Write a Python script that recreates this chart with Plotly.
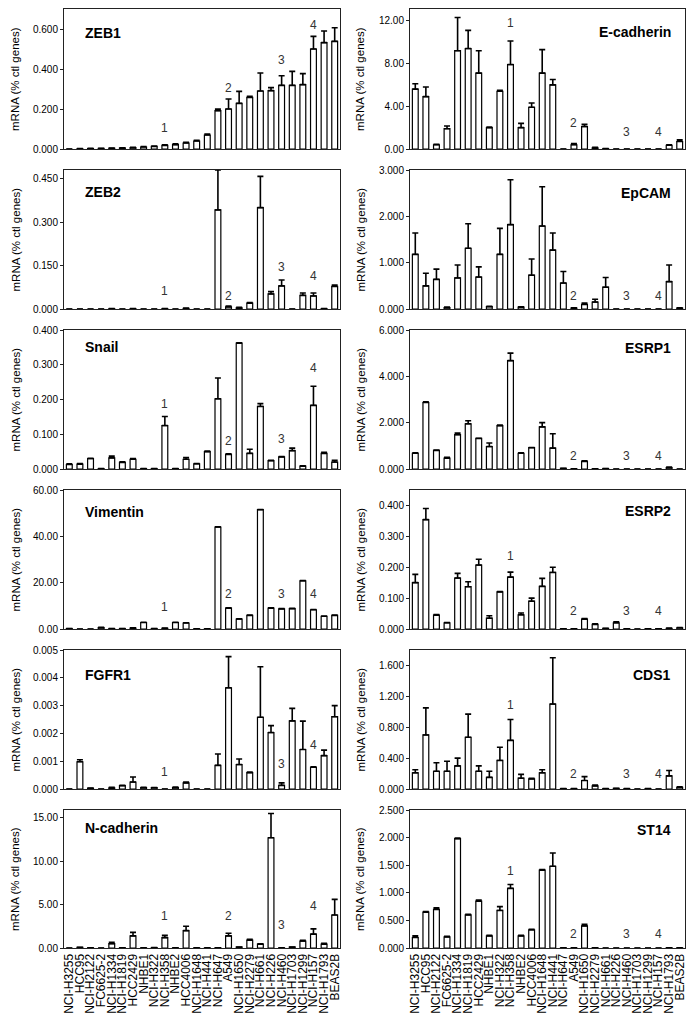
import plotly.graph_objects as go

cats = ["NCI-H3255", "HCC95", "NCI-H2122", "FC6625-2", "NCI-H1334", "NCI-H1819",
        "HCC2429", "NHBE1", "NCI-H322", "NCI-H358", "NHBE2", "HCC4006", "NCI-H1648",
        "NCI-H441", "NCI-H647", "A549", "NCI-H1650", "NCI-H2279", "NCI-H661",
        "NCI-H226", "NCI-H460", "NCI-H1703", "NCI-H1299", "NCI-H157", "NCI-H1793",
        "BEAS2B"]

group_labels = ["1", "2", "3", "4"]
group_cats = ["NCI-H358", "A549", "NCI-H460", "NCI-H157"]

zeb1 = [0.000, 0.001, 0.002, 0.003, 0.004, 0.005, 0.007, 0.010, 0.013, 0.018, 0.022, 0.030, 0.040,
        0.070, 0.192, 0.200, 0.228, 0.258, 0.290, 0.292, 0.318, 0.318, 0.322, 0.500, 0.532, 0.538]
zeb1_err = [0, 0.001, 0.001, 0.001, 0.001, 0.001, 0.002, 0.002, 0.002, 0.003, 0.004, 0.004, 0.003,
            0.005, 0.008, 0.050, 0.060, 0.006, 0.090, 0.015, 0.048, 0.070, 0.055, 0.063, 0.058, 0.068]

ecad = [5.6, 4.9, 0.4, 1.9, 9.2, 9.4, 7.1, 2.0, 5.4, 7.9, 2.0, 3.9, 7.1,
        6.0, 0.0, 0.4, 2.1, 0.1, 0.03, 0, 0, 0, 0, 0, 0.35, 0.7]
ecad_err = [0.5, 0.9, 0.05, 0.25, 3.1, 1.7, 2.1, 0.05, 0.1, 2.2, 0.4, 0.4, 2.2,
            0.5, 0, 0.1, 0.2, 0.05, 0.02, 0, 0, 0, 0, 0, 0.05, 0.15]

zeb2 = [0, 0, 0, 0, 0.001, 0, 0.001, 0, 0, 0.001, 0, 0.002, 0,
        0, 0.342, 0.007, 0.004, 0.020, 0.350, 0.052, 0.080, 0, 0.047, 0.045, 0.001, 0.078]
zeb2_err = [0, 0, 0, 0, 0.0005, 0, 0.0005, 0, 0, 0.0005, 0, 0.001, 0,
            0, 0.138, 0.003, 0.002, 0.002, 0.108, 0.008, 0.020, 0, 0.008, 0.010, 0.0005, 0.005]

epcam = [1.18, 0.50, 0.64, 0.03, 0.67, 1.31, 0.69, 0.05, 1.18, 1.82, 0.04, 0.73, 1.79,
         1.27, 0.56, 0.02, 0.10, 0.15, 0.47, 0, 0, 0, 0, 0, 0.59, 0.02]
epcam_err = [0.46, 0.27, 0.22, 0.01, 0.28, 0.53, 0.22, 0.01, 0.56, 0.97, 0.01, 0.35, 0.85,
             0.37, 0.25, 0.005, 0.03, 0.06, 0.21, 0, 0, 0, 0, 0, 0.36, 0.005]

snail = [0.013, 0.014, 0.030, 0.001, 0.032, 0.019, 0.028, 0.001, 0.001, 0.125, 0.001, 0.028, 0.015,
         0.050, 0.202, 0.042, 0.362, 0.045, 0.180, 0.024, 0.035, 0.053, 0.008, 0.183, 0.045, 0.020]
snail_err = [0.002, 0.002, 0.001, 0, 0.005, 0.002, 0.002, 0, 0, 0.026, 0, 0.005, 0.001,
             0.002, 0.060, 0.002, 0.001, 0.012, 0.008, 0.001, 0.001, 0.007, 0.001, 0.055, 0.003, 0.005]

esrp1 = [0.68, 2.87, 0.80, 0.47, 1.48, 1.95, 1.32, 0.97, 1.87, 4.68, 0.68, 0.92, 1.82,
         0.90, 0.03, 0.01, 0.33, 0.01, 0.02, 0, 0, 0, 0, 0, 0.06, 0]
esrp1_err = [0.02, 0.03, 0.02, 0.03, 0.07, 0.13, 0.01, 0.15, 0.03, 0.32, 0.02, 0.01, 0.18,
             0.62, 0, 0, 0.02, 0, 0, 0, 0, 0, 0, 0, 0.02, 0]

vim = [0.2, 0, 0, 0.6, 0.2, 0.2, 0.4, 2.8, 0.2, 0.3, 2.8, 2.6, 0.1,
       0.1, 44.0, 9.0, 4.3, 5.9, 51.5, 9.0, 8.7, 8.8, 20.8, 8.3, 5.5, 5.9]
vim_err = [0, 0, 0, 0.1, 0, 0, 0.1, 0.1, 0, 0.1, 0.1, 0.1, 0,
           0, 0.1, 0.2, 0.1, 0.1, 0.1, 0.1, 0.1, 0.1, 0.1, 0.1, 0.1, 0.1]

esrp2 = [0.150, 0.354, 0.045, 0.020, 0.165, 0.137, 0.207, 0.035, 0.120, 0.168, 0.046, 0.090, 0.138,
         0.183, 0.001, 0.001, 0.032, 0.015, 0.002, 0.020, 0.001, 0, 0.001, 0.001, 0.002, 0.004]
esrp2_err = [0.027, 0.036, 0.002, 0.001, 0.015, 0.016, 0.019, 0.008, 0.001, 0.016, 0.006, 0.010, 0.026,
             0.017, 0, 0, 0.002, 0.002, 0, 0.003, 0, 0, 0, 0, 0.001, 0.001]

fgfr1 = [0, 0.00098, 0.00003, 0, 0.00004, 0.00012, 0.00025, 0.00005, 0.00005, 0, 0.00005, 0.00022, 0,
         0, 0.00085, 0.00364, 0.00088, 0.00059, 0.00258, 0.00203, 0.00013, 0.00245, 0.00142, 0.00078,
         0.00120, 0.00260]
fgfr1_err = [0, 0.00007, 0, 0, 0.00002, 0.00001, 0.00018, 0.00001, 0, 0, 0.00002, 0.00003, 0,
             0, 0.00041, 0.00112, 0.00020, 0.00002, 0.00182, 0.00025, 0.00009, 0.00045, 0.00102, 0.00002,
             0.00020, 0.00040]

cds1 = [0.21, 0.70, 0.23, 0.23, 0.30, 0.67, 0.23, 0.15, 0.37, 0.63, 0.14, 0.13, 0.21,
        1.10, 0.005, 0.005, 0.11, 0.04, 0.005, 0.008, 0.005, 0, 0.005, 0, 0.17, 0.02]
cds1_err = [0.04, 0.35, 0.11, 0.13, 0.10, 0.30, 0.07, 0.08, 0.17, 0.27, 0.05, 0.01, 0.04,
            0.60, 0, 0, 0.05, 0.01, 0, 0, 0, 0, 0, 0, 0.07, 0.01]

ncad = [0, 0.08, 0.03, 0, 0.50, 0.03, 1.40, 0.02, 0.05, 1.20, 0.02, 2.00, 0.02,
        0.01, 0.03, 1.40, 0.12, 0.90, 0.45, 12.70, 0.02, 0.12, 0.80, 1.60, 0.45, 3.80]
ncad_err = [0, 0, 0, 0, 0.15, 0, 0.40, 0, 0, 0.25, 0, 0.50, 0,
            0, 0, 0.30, 0, 0.10, 0.02, 2.80, 0, 0, 0.10, 0.60, 0.10, 1.80]

st14 = [0.19, 0.65, 0.70, 0.20, 1.98, 0.60, 0.85, 0.22, 0.68, 1.08, 0.22, 0.33, 1.41,
        1.48, 0.003, 0.002, 0.40, 0.005, 0, 0, 0, 0, 0, 0, 0.005, 0.003]
st14_err = [0.03, 0.01, 0.03, 0.01, 0.01, 0.01, 0.02, 0.01, 0.07, 0.07, 0.01, 0.01, 0.01,
            0.24, 0, 0, 0.03, 0, 0, 0, 0, 0, 0, 0, 0, 0]

# panel configuration: (name, values, errors, column, row, ymax, dtick, tickformat, label heights)
panels = [
    ("ZEB1", zeb1, zeb1_err, 0, 0, 0.70, 0.2, ".3f", [0.105, 0.305, 0.443, 0.622]),
    ("ZEB2", zeb2, zeb2_err, 0, 1, 0.48, 0.15, ".3f", [0.061, 0.046, 0.145, 0.113]),
    ("Snail", snail, snail_err, 0, 2, 0.40, 0.1, ".3f", [0.188, 0.081, 0.087, 0.292]),
    ("Vimentin", vim, vim_err, 0, 3, 60, 20, ".2f", [9.6, 15.3, 15.3, 15.3]),
    ("FGFR1", fgfr1, fgfr1_err, 0, 4, 0.005, 0.001, ".3f", [0.00062, 0.0051, 0.0009, 0.00157]),
    ("N-cadherin", ncad, ncad_err, 0, 5, 15.9, 5, ".2f", [3.7, 3.7, 2.6, 4.8]),
    ("E-cadherin", ecad, ecad_err, 1, 0, 13.1, 4, ".2f", [11.8, 2.4, 1.6, 1.6]),
    ("EpCAM", epcam, epcam_err, 1, 1, 3.0, 1, ".3f", [3.03, 0.29, 0.29, 0.29]),
    ("ESRP1", esrp1, esrp1_err, 1, 2, 6.0, 2, ".3f", [None, 0.54, 0.54, 0.54]),
    ("ESRP2", esrp2, esrp2_err, 1, 3, 0.45, 0.1, ".3f", [0.237, 0.057, 0.057, 0.057]),
    ("CDS1", cds1, cds1_err, 1, 4, 1.8, 0.4, ".3f", [1.09, 0.20, 0.20, 0.20]),
    ("ST14", st14, st14_err, 1, 5, 2.5, 0.5, ".3f", [1.40, 0.25, 0.25, 0.25]),
]

W, H = 694, 1024
tops = [9, 170, 330, 490, 650, 810]
bottoms = [149, 309, 469, 629, 789, 948]
xdom = [(64, 340), (410, 685)]
title_off = {0: [24, 22, 17, 22, 25, 18], 1: [23, 23, 18, 21, 25, 20]}
ytitle_x = [15, 360]
FONT = "Liberation Sans, Arial, sans-serif"

fig = go.Figure()
annotations = []
layout = {}
for k, (name, vals, errs, col, row, ymax, dt, fmt, lab_y) in enumerate(panels, start=1):
    xa = "x" if k == 1 else f"x{k}"
    ya = "y" if k == 1 else f"y{k}"
    fig.add_trace(go.Bar(
        x=cats, y=vals, xaxis=xa, yaxis=ya,
        marker=dict(color="white", line=dict(color="black", width=1.2)),
        error_y=dict(type="data", array=errs, arrayminus=[0] * len(errs), symmetric=False,
                     color="black", thickness=1.6, width=3),
        showlegend=False,
    ))
    x0, x1 = xdom[col]
    layout["xaxis" if k == 1 else f"xaxis{k}"] = dict(
        domain=[x0 / W, x1 / W], anchor=ya, type="category",
        tickmode="array", tickvals=cats, ticktext=cats,
        showline=True, mirror=True, linecolor="#222", linewidth=1, automargin=False,
        showgrid=False, ticks="", showticklabels=(row == 5), tickangle=-90,
        tickfont=dict(family=FONT, size=12, color="black"), zeroline=False,
        range=[-0.5, len(cats) - 0.5],
    )
    layout["yaxis" if k == 1 else f"yaxis{k}"] = dict(
        domain=[1 - bottoms[row] / H, 1 - tops[row] / H], anchor=xa,
        range=[0, ymax], dtick=dt, tick0=0, tickformat=fmt, automargin=False,
        showline=True, mirror=True, linecolor="#222", linewidth=1, showgrid=False,
        ticks="outside", ticklen=3, tickcolor="#222", zeroline=False,
        tickfont=dict(family=FONT, size=10, color="black"),
    )
    if col == 0:
        annotations.append(dict(text=f"<b>{name}</b>", xref="paper", yref="paper",
                                x=83 / W, y=1 - (tops[row] + title_off[0][row]) / H,
                                xanchor="left", yanchor="middle", showarrow=False,
                                font=dict(family=FONT, size=14, color="black")))
    else:
        annotations.append(dict(text=f"<b>{name}</b>", xref="paper", yref="paper",
                                x=673 / W, y=1 - (tops[row] + title_off[1][row]) / H,
                                xanchor="right", yanchor="middle", showarrow=False,
                                font=dict(family=FONT, size=14, color="black")))
    annotations.append(dict(text="mRNA (% ctl genes)", xref="paper", yref="paper",
                            x=ytitle_x[col] / W, y=1 - (tops[row] + bottoms[row]) / 2 / H,
                            textangle=-90, xanchor="center", yanchor="middle", showarrow=False,
                            font=dict(family=FONT, size=11.5, color="black")))
    for lab, c, yv in zip(group_labels, group_cats, lab_y):
        if yv is None:
            continue
        annotations.append(dict(text=lab, x=c, y=yv, xref=xa, yref=ya, showarrow=False,
                                xanchor="center", yanchor="middle",
                                font=dict(family=FONT, size=12, color="#333")))

fig.update_layout(
    template="none",
    width=W, height=H, margin=dict(l=0, r=0, t=0, b=0, autoexpand=False),
    paper_bgcolor="white", plot_bgcolor="white", showlegend=False,
    bargap=0.45, annotations=annotations, **layout,
)
fig.write_html("out.html", config={"displayModeBar": False},
               post_script="document.body.style.margin='0px';document.body.style.overflow='hidden';")
